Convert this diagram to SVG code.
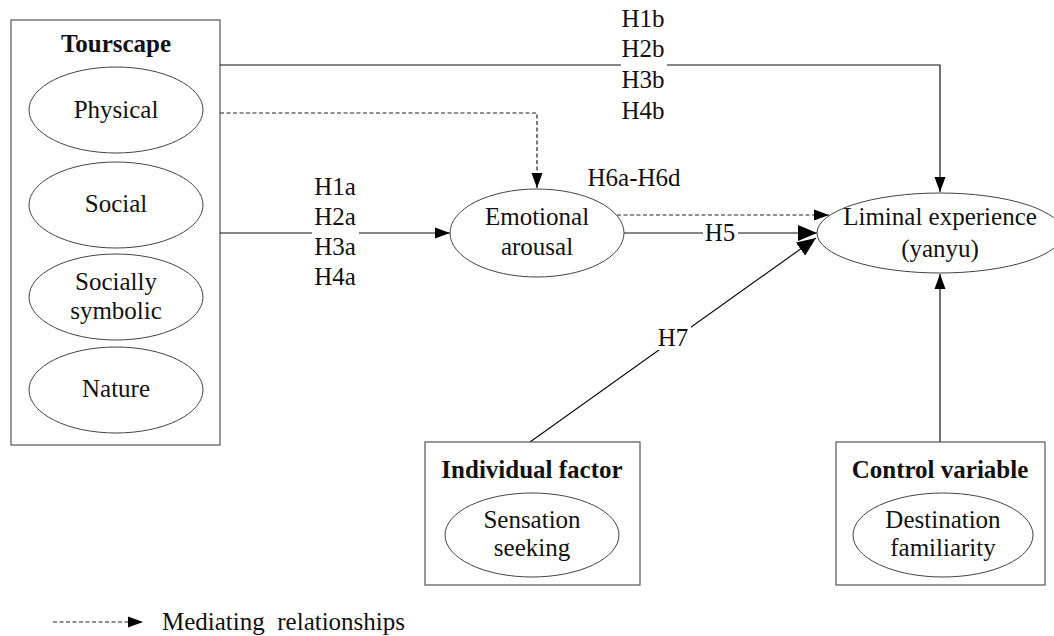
<svg xmlns="http://www.w3.org/2000/svg" width="1054" height="636" viewBox="0 0 1054 636">
<style>
text{font-family:"Liberation Serif","Times New Roman",serif;font-size:25px;fill:#111;text-anchor:middle}
.b{font-weight:bold}
.box{fill:#fff;stroke:#555;stroke-width:1.2}
.el{fill:#fff;stroke:#444;stroke-width:1}
.ln{fill:none;stroke:#111;stroke-width:1.2}
.dash{fill:none;stroke:#222;stroke-width:1.2;stroke-dasharray:4 2.5}
.bg{fill:#fff}
</style>
<defs>
<marker id="arr" markerUnits="userSpaceOnUse" markerWidth="16" markerHeight="12" refX="15" refY="6" orient="auto">
<path d="M0,0.5 L15,6 L0,11.5 z" fill="#000"/>
</marker>
<marker id="arrBig" markerUnits="userSpaceOnUse" markerWidth="20" markerHeight="16" refX="19" refY="8" orient="auto">
<path d="M0,0 L19,8 L0,16 z" fill="#000"/>
</marker>
</defs>
<rect width="1054" height="636" fill="#fff"/>

<g id="tourscape">
<rect class="box" x="11" y="20" width="209" height="425"/>
<text class="b" x="116" y="52">Tourscape</text>
<g id="physical"><ellipse class="el" cx="116" cy="110" rx="87" ry="43"/><text x="116" y="118">Physical</text></g>
<g id="social"><ellipse class="el" cx="116" cy="205" rx="87" ry="43"/><text x="116" y="212">Social</text></g>
<g id="symbolic"><ellipse class="el" cx="116" cy="297" rx="87" ry="43"/><text x="116" y="290">Socially</text><text x="116" y="319">symbolic</text></g>
<g id="nature"><ellipse class="el" cx="116" cy="390" rx="87" ry="43"/><text x="116" y="397">Nature</text></g>
</g>

<g id="connectors">
<polyline class="ln" points="220,65 940,65 940,192" marker-end="url(#arr)"/>
<polyline class="dash" points="220,113 537,113 537,188" marker-end="url(#arr)"/>
<line class="ln" x1="220" y1="233" x2="450" y2="233" marker-end="url(#arr)"/>
<line class="dash" x1="617" y1="215" x2="829" y2="215" marker-end="url(#arr)"/>
<line class="ln" x1="624" y1="233" x2="817" y2="233" marker-end="url(#arrBig)"/>
<line class="ln" x1="530" y1="442" x2="816" y2="238" marker-end="url(#arrBig)"/>
<line class="ln" x1="940" y1="442" x2="940" y2="274" marker-end="url(#arr)"/>
<rect class="bg" x="621" y="56" width="46" height="18"/>
<rect class="bg" x="312" y="226" width="47" height="14"/>
<rect class="bg" x="703" y="222" width="35" height="22"/>
<rect class="bg" x="656" y="326" width="35" height="24"/>
<text x="643" y="27">H1b</text>
<text x="643" y="57">H2b</text>
<text x="643" y="88">H3b</text>
<text x="643" y="119">H4b</text>
<text x="335" y="195">H1a</text>
<text x="335" y="225">H2a</text>
<text x="335" y="255">H3a</text>
<text x="335" y="285">H4a</text>
<text x="634" y="186">H6a-H6d</text>
<text x="720" y="241">H5</text>
<text x="673" y="346">H7</text>
</g>

<g id="emotional">
<ellipse class="el" cx="537" cy="233" rx="87" ry="44"/>
<text x="537" y="225">Emotional</text>
<text x="537" y="255">arousal</text>
</g>

<g id="liminal">
<ellipse class="el" cx="940" cy="233" rx="123" ry="40"/>
<text x="940" y="225">Liminal experience</text>
<text x="940" y="257">(yanyu)</text>
</g>

<g id="individual">
<rect class="box" x="425" y="442" width="215" height="143"/>
<text class="b" x="532" y="478">Individual factor</text>
<ellipse class="el" cx="532" cy="535" rx="87" ry="42"/>
<text x="532" y="528">Sensation</text>
<text x="532" y="556">seeking</text>
</g>

<g id="control">
<rect class="box" x="836" y="442" width="209" height="143"/>
<text class="b" x="940" y="478">Control variable</text>
<ellipse class="el" cx="943" cy="535" rx="90" ry="42"/>
<text x="943" y="528">Destination</text>
<text x="943" y="556">familiarity</text>
</g>

<g id="legend">
<line class="dash" x1="53" y1="622" x2="143" y2="622" marker-end="url(#arr)"/>
<text x="162" y="630" style="text-anchor:start" xml:space="preserve">Mediating  relationships</text>
</g>
</svg>
